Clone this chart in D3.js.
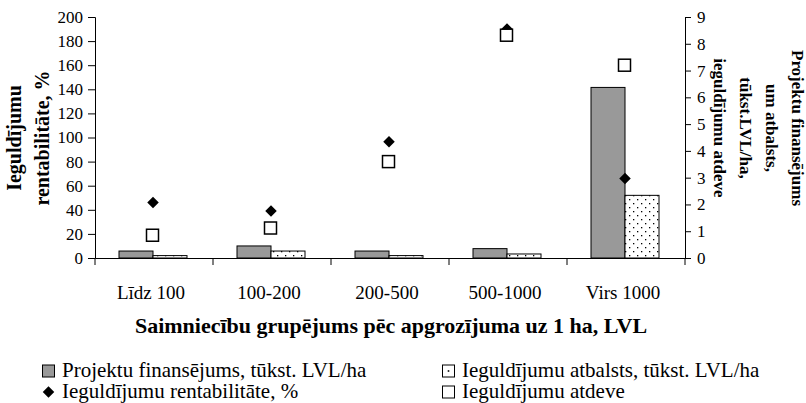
<!DOCTYPE html>
<html>
<head>
<meta charset="utf-8">
<script src="https://cdnjs.cloudflare.com/ajax/libs/d3/7.8.5/d3.min.js"></script>
<style>
  body { margin: 0; background: white; }
  svg { font-family: "Liberation Serif", "Times New Roman", serif; }
</style>
</head>
<body>
<svg width="806" height="403"></svg>
<script>
// data
var groups = ["Līdz 100", "100-200", "200-500", "500-1000", "Virs 1000"];
var financing = [0.26, 0.45, 0.26, 0.35, 6.37];     // tūkst. LVL/ha, right axis
var support = [0.09, 0.26, 0.09, 0.15, 2.34];       // tūkst. LVL/ha, right axis
var profitability = [46, 39, 96.5, 190, 66];        // %, left axis
var returns = [0.85, 1.12, 3.6, 8.32, 7.2];         // right axis
var leftTicks = [0, 20, 40, 60, 80, 100, 120, 140, 160, 180, 200];
var rightTicks = [0, 1, 2, 3, 4, 5, 6, 7, 8, 9];

var svg = d3.select("svg");

var margin = {top: 17, left: 95, right: 121, bottom: 145},
    width = 806 - margin.left - margin.right,
    height = 403 - margin.top - margin.bottom;

var g = svg.append("g")
  .attr("transform", "translate(" + margin.left + "," + margin.top + ")");

var x = d3.scaleBand().domain(groups).range([0, width]);
var yL = d3.scaleLinear().domain([0, 200]).range([height, 0]);
var yR = d3.scaleLinear().domain([0, 9]).range([height, 0]);
var cx = d => x(d) + x.bandwidth() / 2;

// dotted fill for support bars
var pat = svg.append("defs").append("pattern").attr("id", "dots")
  .attr("width", 8).attr("height", 8).attr("patternUnits", "userSpaceOnUse");
pat.append("rect").attr("width", 8).attr("height", 8).attr("fill", "white");
pat.append("rect").attr("x", 2).attr("y", 2).attr("width", 1.3).attr("height", 1.3).attr("fill", "black");
pat.append("rect").attr("x", 6).attr("y", 6).attr("width", 1.3).attr("height", 1.3).attr("fill", "black");

var barW = 34;

g.selectAll(".fin").data(financing).enter().append("rect")
  .attr("x", (d, i) => cx(groups[i]) - barW - 1)
  .attr("y", d => yR(d))
  .attr("width", barW)
  .attr("height", d => height - yR(d))
  .attr("fill", "#999999").attr("stroke", "black").attr("stroke-width", 1);

g.selectAll(".sup").data(support).enter().append("rect")
  .attr("x", (d, i) => cx(groups[i]) - 1)
  .attr("y", d => yR(d))
  .attr("width", barW)
  .attr("height", d => height - yR(d))
  .attr("fill", "url(#dots)").attr("stroke", "black").attr("stroke-width", 1);

// axes
var axL = g.append("g").call(d3.axisLeft(yL).tickValues(leftTicks).tickSize(7).tickPadding(5));
var axR = g.append("g").attr("transform", "translate(" + width + ",0)")
  .call(d3.axisRight(yR).tickValues(rightTicks).tickSize(6).tickPadding(6));
var axB = g.append("g").attr("transform", "translate(0," + height + ")")
  .call(d3.axisBottom(x).tickSize(0).tickPadding(28));
axB.selectAll(".tick text").attr("dx", -3);

// category separators on x axis
var seps = d3.range(groups.length + 1).map(i => i * x.step());
axB.selectAll(".sep").data(seps).enter().append("line")
  .attr("x1", d => d).attr("x2", d => d).attr("y1", 0).attr("y2", 7)
  .attr("stroke", "black");

[axL, axR, axB].forEach(a => {
  a.selectAll("path,line").attr("stroke", "black");
  a.selectAll("text").attr("fill", "black")
    .style("font-family", "Liberation Serif").style("font-size", "17px");
});
axB.selectAll(".tick text").style("font-size", "19px");

// markers
var diamond = d3.symbol().type(d3.symbolDiamond2).size(85);
g.selectAll(".dia").data(profitability).enter().append("path")
  .attr("d", diamond)
  .attr("transform", (d, i) => "translate(" + (cx(groups[i]) - 1) + "," + yL(d) + ")")
  .attr("fill", "black");

g.selectAll(".sq").data(returns).enter().append("rect")
  .attr("x", (d, i) => cx(groups[i]) - 7.5)
  .attr("y", d => yR(d) - 6)
  .attr("width", 12).attr("height", 12)
  .attr("fill", "white").attr("stroke", "black").attr("stroke-width", 1.5);

// axis titles
function bold(sel, size) {
  return sel.style("font-family", "Liberation Serif").style("font-size", size + "px")
    .style("font-weight", "bold");
}

var leftTitle = ["Ieguldījumu", "rentabilitāte, %"];
leftTitle.forEach((t, i) => {
  bold(svg.append("text")
    .attr("transform", "translate(" + (21 + i * 28) + ",138) rotate(-90)")
    .attr("text-anchor", "middle").text(t), 20);
});

var rightTitle = ["Projektu finansējums", "um atbalsts,", "tūkst.LVL/ha,", "ieguldījumu atdeve"];
rightTitle.forEach((t, i) => {
  bold(svg.append("text")
    .attr("transform", "translate(" + (792 - i * 26) + ",128) rotate(90)")
    .attr("text-anchor", "middle").text(t), 17);
});

bold(svg.append("text").attr("x", 391).attr("y", 333)
  .attr("text-anchor", "middle")
  .text("Saimniecību grupējums pēc apgrozījuma uz 1 ha, LVL"), 22);

// legend
var legend = [
  {label: "Projektu finansējums, tūkst. LVL/ha", kind: "fin", x: 42, y: 371},
  {label: "Ieguldījumu atbalsts, tūkst. LVL/ha", kind: "sup", x: 442, y: 371},
  {label: "Ieguldījumu rentabilitāte, %", kind: "dia", x: 42, y: 392},
  {label: "Ieguldījumu atdeve", kind: "sq", x: 442, y: 392}
];
legend.forEach(l => {
  var lg = svg.append("g").attr("transform", "translate(" + l.x + "," + l.y + ")");
  if (l.kind === "dia") {
    lg.append("path").attr("d", d3.symbol().type(d3.symbolDiamond2).size(85))
      .attr("transform", "translate(6.5,0)").attr("fill", "black");
  } else {
    lg.append("rect").attr("x", 0.5).attr("y", -6).attr("width", 12).attr("height", 12)
      .attr("fill", l.kind === "fin" ? "#999999" : "white")
      .attr("stroke", "black").attr("stroke-width", 1);
    if (l.kind === "sup")
      lg.append("rect").attr("x", 5.7).attr("y", -0.8).attr("width", 1.6).attr("height", 1.6).attr("fill", "black");
  }
  lg.append("text").attr("x", 20).attr("y", 6)
    .style("font-family", "Liberation Serif").style("font-size", "21px")
    .text(l.label);
});
</script>
</body>
</html>
